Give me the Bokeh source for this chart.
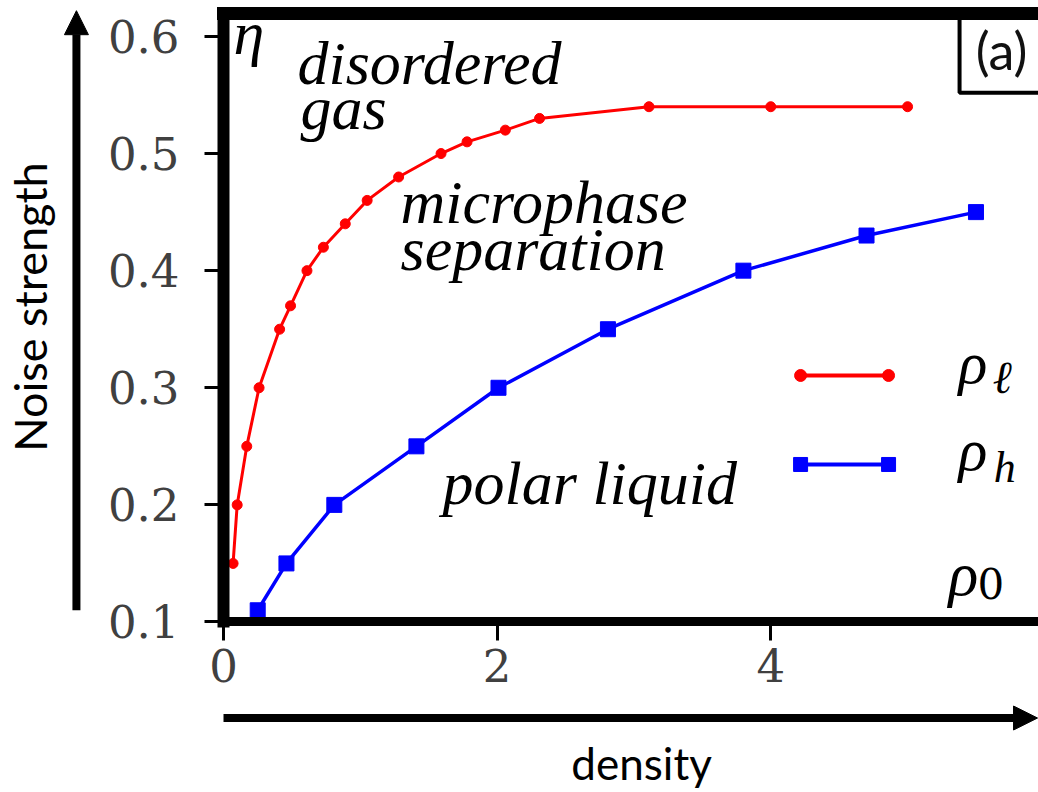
from bokeh.plotting import figure
from bokeh.models import Range1d, LinearAxis, FixedTicker, Label, Arrow, NormalHead
from bokeh.embed import file_html
from bokeh.resources import INLINE

# ---- data ----
rho_l_density = [0.07, 0.10, 0.17, 0.26, 0.41, 0.49, 0.61, 0.73, 0.89, 1.05,
                 1.28, 1.59, 1.78, 2.06, 2.31, 3.11, 4.00, 5.00]
rho_l_noise = [0.15, 0.20, 0.25, 0.30, 0.35, 0.37, 0.40, 0.42, 0.44, 0.46,
               0.48, 0.50, 0.51, 0.52, 0.53, 0.54, 0.54, 0.54]
rho_h_density = [0.25, 0.46, 0.81, 1.41, 2.01, 2.81, 3.80, 4.70, 5.50]
rho_h_noise = [0.11, 0.15, 0.20, 0.25, 0.30, 0.35, 0.40, 0.43, 0.45]
x_ticks = [0, 2, 4]
y_ticks = [0.1, 0.2, 0.3, 0.4, 0.5, 0.6]

RED = "#ff0000"
BLUE = "#0000ff"
SERIF = "DejaVu Serif"
ITAL = "Liberation Serif"
SANS = "Lato"
DY = 20 / 1171.0      # label baseline correction (px -> data)

# the frame spans the whole canvas; axes are placed at fixed data locations
p = figure(frame_width=1038, frame_height=792,
           min_border_left=0, min_border_right=0,
           min_border_top=0, min_border_bottom=0,
           x_range=Range1d(-1.630, 5.957), y_range=Range1d(-0.0456, 0.6307),
           output_backend="svg", toolbar_location=None)
p.grid.visible = False
p.outline_line_color = None
p.background_fill_color = "white"
p.border_fill_color = "white"

# axes
xa = p.xaxis[0]
xa.fixed_location = 0.1
xa.bounds = (0, 6.2)
xa.ticker = FixedTicker(ticks=x_ticks)
xa.axis_line_width = 9
xa.axis_line_cap = "square"
xa.major_tick_out = 19
xa.major_tick_in = 0
xa.major_tick_line_width = 3
xa.minor_tick_line_color = None
xa.major_label_standoff = 8
xa.major_label_text_font = SERIF
xa.major_label_text_font_size = "45px"
xa.major_label_text_color = "#404040"

ya = p.yaxis[0]
ya.fixed_location = 0
ya.bounds = (0.1, 0.62)
ya.ticker = FixedTicker(ticks=y_ticks)
ya.axis_line_width = 12
ya.axis_line_cap = "square"
ya.major_tick_out = 19
ya.major_tick_in = 0
ya.major_tick_line_width = 3
ya.minor_tick_line_color = None
ya.major_label_standoff = 25
ya.major_label_text_font = SERIF
ya.major_label_text_font_size = "45px"
ya.major_label_text_color = "#404040"

top = LinearAxis(fixed_location=0.62, bounds=(0, 6.2),
                 ticker=FixedTicker(ticks=[]), major_tick_out=0, major_tick_in=0,
                 minor_tick_line_color=None, major_label_text_font_size="0px",
                 major_label_standoff=0, axis_line_width=13, axis_line_cap="square")
p.add_layout(top, "above")

# series
p.line(rho_l_density, rho_l_noise, line_color=RED, line_width=3)
p.scatter(rho_l_density, rho_l_noise, marker="circle", size=10,
          fill_color=RED, line_color=RED)
p.line(rho_h_density, rho_h_noise, line_color=BLUE, line_width=3.5)
p.scatter(rho_h_density, rho_h_noise, marker="square", size=15,
          fill_color=BLUE, line_color=BLUE)

# legend keys (drawn by hand: markers at both ends)
leg_x = [4.218, 4.861]
p.line(leg_x, [0.3105, 0.3105], line_color=RED, line_width=4)
p.scatter(leg_x, [0.3105, 0.3105], marker="circle", size=12, fill_color=RED, line_color=RED)
p.line(leg_x, [0.2345, 0.2345], line_color=BLUE, line_width=4)
p.scatter(leg_x, [0.2345, 0.2345], marker="square", size=14, fill_color=BLUE, line_color=BLUE)

# (a) box
p.quad(left=[5.38], right=[6.5], bottom=[0.552], top=[0.62],
       fill_color="white", line_color="black", line_width=4)
p.add_layout(Label(x=5.687, y=0.5883, text="(a)", text_font=SANS,
                   text_font_size="52px", text_color="#111111",
                   text_align="center", text_baseline="middle"))

def it(x, y, t, size="62px", font=ITAL, style="italic"):
    p.add_layout(Label(x=x, y=y + DY, text=t, text_font=font, text_font_style=style,
                       text_font_size=size, text_color="black",
                       text_align="left", text_baseline="alphabetic"))

it(0.073, 0.5855, "η")
it(0.541, 0.5599, "disordered")
it(0.563, 0.5214, "gas")
it(1.294, 0.4412, "microphase")
it(1.294, 0.4010, "separation")
it(1.601, 0.2012, "polar liquid")
it(5.373, 0.3045, "ρ", "60px")
it(5.620, 0.2917, "ℓ", "46px")
it(5.373, 0.2294, "ρ", "60px")
it(5.629, 0.2149, "h", "44px")
it(5.300, 0.1243, "ρ", "62px")
it(5.512, 0.1158, "0", "42px", SERIF, "normal")

# outer arrows and titles
p.add_layout(Arrow(end=NormalHead(size=24, fill_color="black", line_color="black", line_width=1),
                   x_start=-1.075, y_start=0.110, x_end=-1.075, y_end=0.622,
                   line_width=8, line_color="black"))
p.add_layout(Arrow(end=NormalHead(size=24, fill_color="black", line_color="black", line_width=1),
                   x_start=0.0, y_start=0.018, x_end=5.95, y_end=0.018,
                   line_width=8, line_color="black"))
p.add_layout(Label(x=-1.411, y=0.369, text="Noise strength", angle=1.5708,
                   text_font=SANS, text_font_size="45px", text_color="black",
                   text_align="center", text_baseline="alphabetic"))
p.add_layout(Label(x=3.056, y=-0.0200, text="density",
                   text_font=SANS, text_font_size="44px", text_color="black",
                   text_align="center", text_baseline="alphabetic"))

open("out.html", "w").write(file_html(p, INLINE))
